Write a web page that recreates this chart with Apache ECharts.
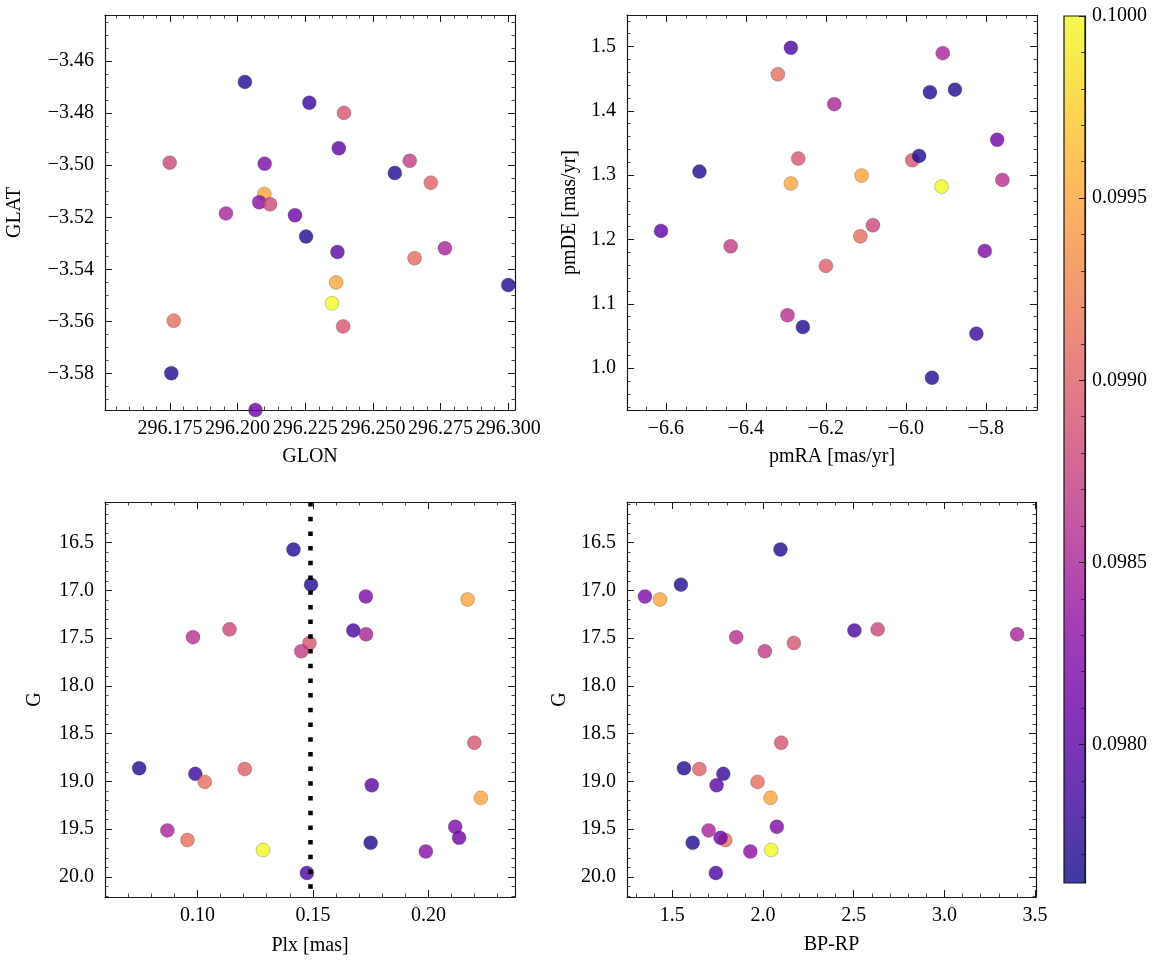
<!DOCTYPE html>
<html><head><meta charset="utf-8">
<script src="https://cdn.jsdelivr.net/npm/echarts@6/dist/echarts.min.js"></script>
<style>html,body{margin:0;padding:0;background:#fff}#c{width:1166px;height:965px}</style>
</head><body><div id="c"></div>
<script>
// ---- Sky positions (panel 1) ----
const glon = [296.2027, 296.2265, 296.2393, 296.2374, 296.1749, 296.2100, 296.2636, 296.2581, 296.2714, 296.2099, 296.2080, 296.2120, 296.1957, 296.2212, 296.2253, 296.2369, 296.2766, 296.2654, 296.3000, 296.2364, 296.2349, 296.2390, 296.1764, 296.1755, 296.2066];
const glat = [-3.4680, -3.4760, -3.4799, -3.4935, -3.4990, -3.4994, -3.4983, -3.5030, -3.5067, -3.5110, -3.5142, -3.5150, -3.5185, -3.5192, -3.5274, -3.5333, -3.5319, -3.5357, -3.5460, -3.5450, -3.5530, -3.5619, -3.5597, -3.5799, -3.5940];
const colSky = [0.0977, 0.0978, 0.0989, 0.0980, 0.0988, 0.0982, 0.0987, 0.0977, 0.0990, 0.0995, 0.0983, 0.0988, 0.0985, 0.0981, 0.0977, 0.0980, 0.0985, 0.0991, 0.0977, 0.0995, 0.1000, 0.0989, 0.0991, 0.0977, 0.0981];

// ---- Proper motions (panel 2) ----
const pmra = [-6.2875, -5.908, -6.320, -5.940, -5.8775, -6.179, -5.772, -6.516, -6.269, -5.984, -5.967, -6.2875, -6.1108, -5.911, -5.759, -6.612, -6.438, -6.0825, -6.114, -6.200, -5.803, -6.296, -6.2575, -5.824, -5.935];
const pmde = [1.498, 1.4897, 1.457, 1.429, 1.433, 1.4104, 1.355, 1.3056, 1.3258, 1.3233, 1.330, 1.287, 1.2994, 1.2823, 1.2927, 1.2134, 1.1896, 1.2222, 1.2051, 1.159, 1.1823, 1.0823, 1.064, 1.0537, 0.9852];
const colPm = [0.0979, 0.0985, 0.0991, 0.0977, 0.0977, 0.0985, 0.0981, 0.0977, 0.0989, 0.0989, 0.0977, 0.0995, 0.0995, 0.1000, 0.0986, 0.0980, 0.0987, 0.0988, 0.0991, 0.0990, 0.0982, 0.0986, 0.0977, 0.0978, 0.0977];

// ---- Photometry (panels 3 and 4) ----
const plx = [0.1416, 0.1492, 0.1729, 0.2170, 0.0981, 0.1139, 0.1485, 0.1450, 0.1675, 0.1730, 0.2199, 0.0748, 0.0991, 0.1032, 0.1205, 0.1755, 0.2227, 0.0870, 0.0957, 0.1284, 0.1750, 0.2116, 0.2133, 0.1989, 0.1474];
const gmag = [16.573, 16.940, 17.064, 17.095, 17.490, 17.408, 17.551, 17.638, 17.419, 17.460, 18.595, 18.862, 18.921, 19.005, 18.870, 19.040, 19.172, 19.513, 19.614, 19.718, 19.642, 19.475, 19.590, 19.733, 19.958];
const bprp = [2.096, 1.547, 1.349, 1.432, 1.852, 2.632, 2.170, 2.010, 2.504, 3.401, 2.100, 1.564, 1.781, 1.970, 1.649, 1.744, 2.041, 1.700, 1.792, 2.045, 1.612, 2.076, 1.766, 1.930, 1.740];
const colPhot = [0.0977, 0.0977, 0.0982, 0.0995, 0.0986, 0.0988, 0.0989, 0.0987, 0.0979, 0.0985, 0.0989, 0.0977, 0.0978, 0.0991, 0.0990, 0.0980, 0.0995, 0.0985, 0.0991, 0.1000, 0.0977, 0.0982, 0.0981, 0.0983, 0.0979];
const plxLine = 0.1487;

// ---- Tick labels ----
const glonTicks = [296.175, 296.200, 296.225, 296.250, 296.275, 296.300];
const glatTicks = [-3.58, -3.56, -3.54, -3.52, -3.50, -3.48, -3.46];
const pmraTicks = [-6.6, -6.4, -6.2, -6.0, -5.8];
const pmdeTicks = [1.0, 1.1, 1.2, 1.3, 1.4, 1.5];
const plxTicks = [0.10, 0.15, 0.20];
const gTicks = [16.5, 17.0, 17.5, 18.0, 18.5, 19.0, 19.5, 20.0];
const bprpTicks = [1.5, 2.0, 2.5, 3.0, 3.5];
const cbarTicks = [0.0980, 0.0985, 0.0990, 0.0995, 0.1000];
const cMin = 0.09762, cMax = 0.1000;

const plasma = ['#0d0887','#41049d','#6a00a8','#8f0da4','#b12a90','#cc4778','#e16462','#f2844b','#fca636','#fcce25','#f0f921'];

const FONT = 'Liberation Serif';
const FS = 20;
const AX = '#1a1a1a';

function minorVals(min, max, step) {
  const out = [];
  const s = Math.ceil(min / step - 1e-6);
  for (let k = s; k * step <= max + 1e-9; k++) out.push(+(k * step).toFixed(7));
  return out;
}
const minus = s => s.replace('-', '\u2212');

const xAxes = [], yAxes = [];
function addAxes(list, gi, dim, min, max, majors, minorStep, digits, name, nameGap, inverse, sidesOverride) {
  const isX = dim === 'x';
  const sides = sidesOverride || (isX ? ['bottom', 'top'] : ['left', 'right']);
  const mainIdx = list.length;
  const mins = minorVals(min, max, minorStep);
  sides.forEach((pos, si) => {
    const base = { gridIndex: gi, type: 'value', position: pos, min: min, max: max, inverse: !!inverse,
      splitLine: { show: false }, minorTick: { show: false }, offset: 0 };
    const lab = si === 0;
    list.push(Object.assign({}, base, {
      axisLine: { show: true, onZero: false, lineStyle: { color: AX, width: 1.2 } },
      axisTick: { show: true, inside: true, length: 7, customValues: majors, lineStyle: { color: AX, width: 1 } },
      axisLabel: lab ? { show: true, customValues: majors, hideOverlap: false, margin: isX ? 9 : 11,
        formatter: v => minus(Number(v).toFixed(digits)), color: '#000', fontFamily: FONT, fontSize: FS } : { show: false },
      name: lab ? name : '', nameLocation: 'middle', nameGap: nameGap, nameRotate: isX ? 0 : 90,
      nameMoveOverlap: false,
      nameTextStyle: { color: '#000', fontFamily: FONT, fontSize: FS }
    }));
    list.push(Object.assign({}, base, {
      axisLine: { show: false, onZero: false },
      axisTick: { show: true, inside: true, length: 3.5, customValues: mins, lineStyle: { color: AX, width: 0.8 } },
      axisLabel: { show: false }, name: ''
    }));
  });
  return mainIdx;
}

const grids = [
  { left: 105, top: 15, width: 410, height: 395 },
  { left: 627, top: 15, width: 410, height: 395 },
  { left: 105, top: 502, width: 410, height: 395 },
  { left: 627, top: 502, width: 409, height: 395 },
  { left: 1064, top: 16, width: 21, height: 867, show: true, borderColor: AX, borderWidth: 1.2,
    backgroundColor: { type: 'linear', x: 0, y: 1, x2: 0, y2: 0,
      colorStops: plasma.map((c, i) => {
        const r = parseInt(c.slice(1,3),16), g = parseInt(c.slice(3,5),16), b = parseInt(c.slice(5,7),16);
        return { offset: i / 10, color: 'rgba(' + r + ',' + g + ',' + b + ',0.8)' };
      }) } }
].map(g => Object.assign({ outerBoundsMode: 'none', containLabel: false }, g));

const x0 = addAxes(xAxes, 0, 'x', 296.1510, 296.3025, glonTicks, 0.005, 3, 'GLON', 37);
const y0 = addAxes(yAxes, 0, 'y', -3.5940, -3.4423, glatTicks, 0.005, 2, 'GLAT', 80);
const x1 = addAxes(xAxes, 1, 'x', -6.697, -5.6725, pmraTicks, 0.05, 1, 'pmRA [mas/yr]', 37);
const y1 = addAxes(yAxes, 1, 'y', 0.935, 1.549, pmdeTicks, 0.02, 1, 'pmDE [mas/yr]', 47);
const x2 = addAxes(xAxes, 2, 'x', 0.060, 0.2375, plxTicks, 0.01, 2, 'Plx [mas]', 39);
const y2 = addAxes(yAxes, 2, 'y', 16.075, 20.21, gTicks, 0.1, 1, 'G', 60, true);
const x3 = addAxes(xAxes, 3, 'x', 1.25, 3.505, bprpTicks, 0.1, 1, 'BP-RP', 38);
const y3 = addAxes(yAxes, 3, 'y', 16.075, 20.21, gTicks, 0.1, 1, 'G', 57, true);
// colorbar axes
xAxes.push({ gridIndex: 4, type: 'value', min: 0, max: 1, show: false });
const y4 = addAxes(yAxes, 4, 'y', cMin, cMax, cbarTicks, 0.0001, 4, '', 0, false, ['right']);
yAxes[y4].axisTick.length = 6;
yAxes[y4 + 1].axisTick.length = 4;
yAxes[y4].axisLabel.margin = 7;

const pointStyle = { opacity: 0.8, borderColor: 'rgba(70,70,70,0.7)', borderWidth: 0.5 };
function scatter(xi, yi, xs, ys, cs) {
  return { type: 'scatter', xAxisIndex: xi, yAxisIndex: yi, symbolSize: 14, itemStyle: pointStyle,
    data: xs.map((v, i) => [v, ys[i], cs[i]]), animation: false };
}
const s3 = scatter(x2, y2, plx, gmag, colPhot);
s3.markLine = { silent: true, symbol: ['none', 'none'], animation: false, precision: 5, label: { show: false },
  lineStyle: { color: '#000', type: [4.5, 10.2], width: 4.5, cap: 'butt' },
  data: [{ xAxis: plxLine }] };

const option = {
  backgroundColor: '#fff',
  animation: false,
  grid: grids,
  xAxis: xAxes,
  yAxis: yAxes,
  visualMap: { type: 'continuous', show: false, min: cMin, max: cMax, dimension: 2, seriesIndex: [0, 1, 2, 3],
    inRange: { color: plasma } },
  series: [
    scatter(x0, y0, glon, glat, colSky),
    scatter(x1, y1, pmra, pmde, colPm),
    s3,
    scatter(x3, y3, bprp, gmag, colPhot)
  ]
};
const chart = echarts.init(document.getElementById('c'), null, { renderer: 'canvas' });
chart.setOption(option);
</script>
</body></html>
